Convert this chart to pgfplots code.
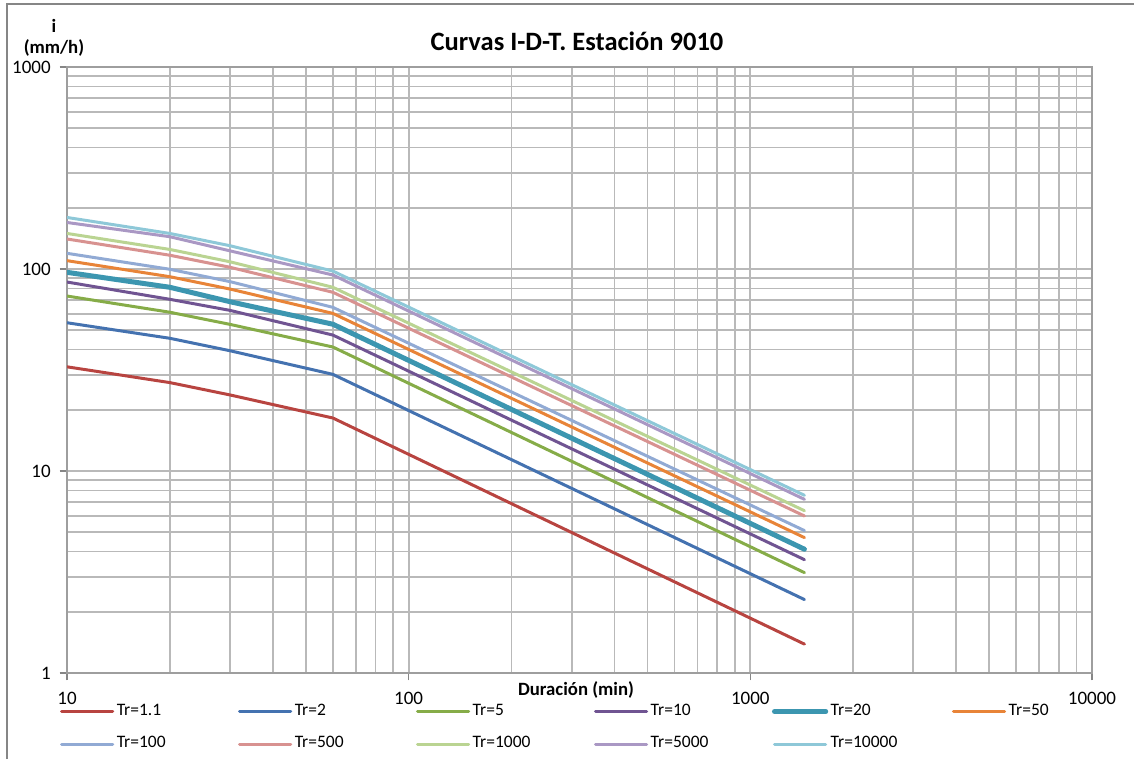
\documentclass[border=0pt]{standalone}
\usepackage{pgfplots}
\pgfplotsset{compat=1.18}
\usepackage{fontspec}
\setmainfont{Carlito}

\definecolor{gridgray}{RGB}{185,185,185}
\definecolor{framegray}{RGB}{134,134,134}
\definecolor{trA}{RGB}{184,68,64}
\definecolor{trB}{RGB}{68,114,176}
\definecolor{trC}{RGB}{134,172,72}
\definecolor{trD}{RGB}{112,84,146}
\definecolor{trE}{RGB}{60,150,176}
\definecolor{trF}{RGB}{232,132,56}
\definecolor{trG}{RGB}{145,170,212}
\definecolor{trH}{RGB}{216,146,144}
\definecolor{trI}{RGB}{186,212,146}
\definecolor{trJ}{RGB}{170,152,196}
\definecolor{trK}{RGB}{142,200,216}

\begin{document}
\begin{tikzpicture}[x=1pt,y=1pt]
  \useasboundingbox (-26.8,-34.4) rectangle (426.8,269.2);
  % chart frame (only top and left edges are visible)
  \draw[framegray, line width=0.8pt] (-24,-34.4) -- (-24,267.6) -- (426.8,267.6);

  \begin{axis}[
    at={(0,0)}, anchor=south west,
    scale only axis, width=410pt, height=242.4pt,
    xmode=log, ymode=log,
    xmin=10, xmax=10000, ymin=1, ymax=1000,
    xtick={10,100,1000,10000}, xticklabels={10,100,1000,10000},
    ytick={1,10,100,1000}, yticklabels={1,10,100,1000},
    grid=both,
    major grid style={draw=gridgray, line width=0.7pt},
    minor grid style={draw=gridgray, line width=0.7pt},
    axis line style={draw=framegray!80, line width=0.7pt},
    tick pos=left, tick align=outside,
    major tick length=3pt, minor tick length=0pt,
    tick style={draw=framegray, line width=0.6pt},
    ticklabel style={font=\fontsize{7.6}{9}\selectfont},
    xticklabel style={yshift=-1pt},
    every axis plot/.append style={line width=1.2pt, line join=round, line cap=round},
    legend columns=6, legend cell align=left,
    legend style={at={(0,0)}, anchor=north west, xshift=-3pt, yshift=-11.2pt,
      draw=none, fill=none, inner sep=0pt, row sep=5pt,
      font=\fontsize{7}{8}\selectfont, nodes={inner sep=1pt}},
    legend image code/.code={\draw[#1, line cap=round] (0.5pt,0pt) -- (21pt,0pt);},
  ]
    \addplot[trA] coordinates {(10,32.8)(20,27.4)(30,23.8)(60,18.3)(1440,1.39)};
    \addlegendentry{\makebox[47.5pt][l]{Tr=1.1}}
    \addplot[trB] coordinates {(10,54.2)(20,45.4)(30,39.4)(60,30.1)(1440,2.31)};
    \addlegendentry{\makebox[47.5pt][l]{Tr=2}}
    \addplot[trC] coordinates {(10,73.5)(20,61.1)(30,53.2)(60,41.1)(1440,3.14)};
    \addlegendentry{\makebox[47.5pt][l]{Tr=5}}
    \addplot[trD] coordinates {(10,86.2)(20,70.8)(30,62.4)(60,47.1)(1440,3.64)};
    \addlegendentry{\makebox[47.5pt][l]{Tr=10}}
    \addplot[trE, line width=2pt] coordinates {(10,96.3)(20,81.2)(30,68.9)(60,53.3)(1440,4.10)};
    \addlegendentry{\makebox[47.5pt][l]{Tr=20}}
    \addplot[trF] coordinates {(10,110)(20,91.6)(30,79.6)(60,60.3)(1440,4.68)};
    \addlegendentry{\makebox[47.5pt][l]{Tr=50}}
    \addplot[trG] coordinates {(10,119.6)(20,99.7)(30,86.6)(60,64.6)(1440,5.07)};
    \addlegendentry{\makebox[47.5pt][l]{Tr=100}}
    \addplot[trH] coordinates {(10,140.8)(20,117)(30,102)(60,76.7)(1440,5.99)};
    \addlegendentry{\makebox[47.5pt][l]{Tr=500}}
    \addplot[trI] coordinates {(10,150)(20,125)(30,108.6)(60,81.2)(1440,6.36)};
    \addlegendentry{\makebox[47.5pt][l]{Tr=1000}}
    \addplot[trJ] coordinates {(10,170)(20,144.5)(30,123)(60,93.4)(1440,7.24)};
    \addlegendentry{\makebox[47.5pt][l]{Tr=5000}}
    \addplot[trK] coordinates {(10,180)(20,150)(30,130.4)(60,97.7)(1440,7.58)};
    \addlegendentry{\makebox[47.5pt][l]{Tr=10000}}
  \end{axis}

  \node[font=\bfseries\fontsize{10.6}{12}\selectfont] at (204,252.5) {Curvas I-D-T. Estación 9010};
  \node[font=\bfseries\fontsize{7.5}{8.6}\selectfont, align=center] at (-5.2,254) {i\\(mm/h)};
  \node[font=\bfseries\fontsize{7.5}{9}\selectfont] at (203.6,-6.8) {Duración (min)};
\end{tikzpicture}
\end{document}
